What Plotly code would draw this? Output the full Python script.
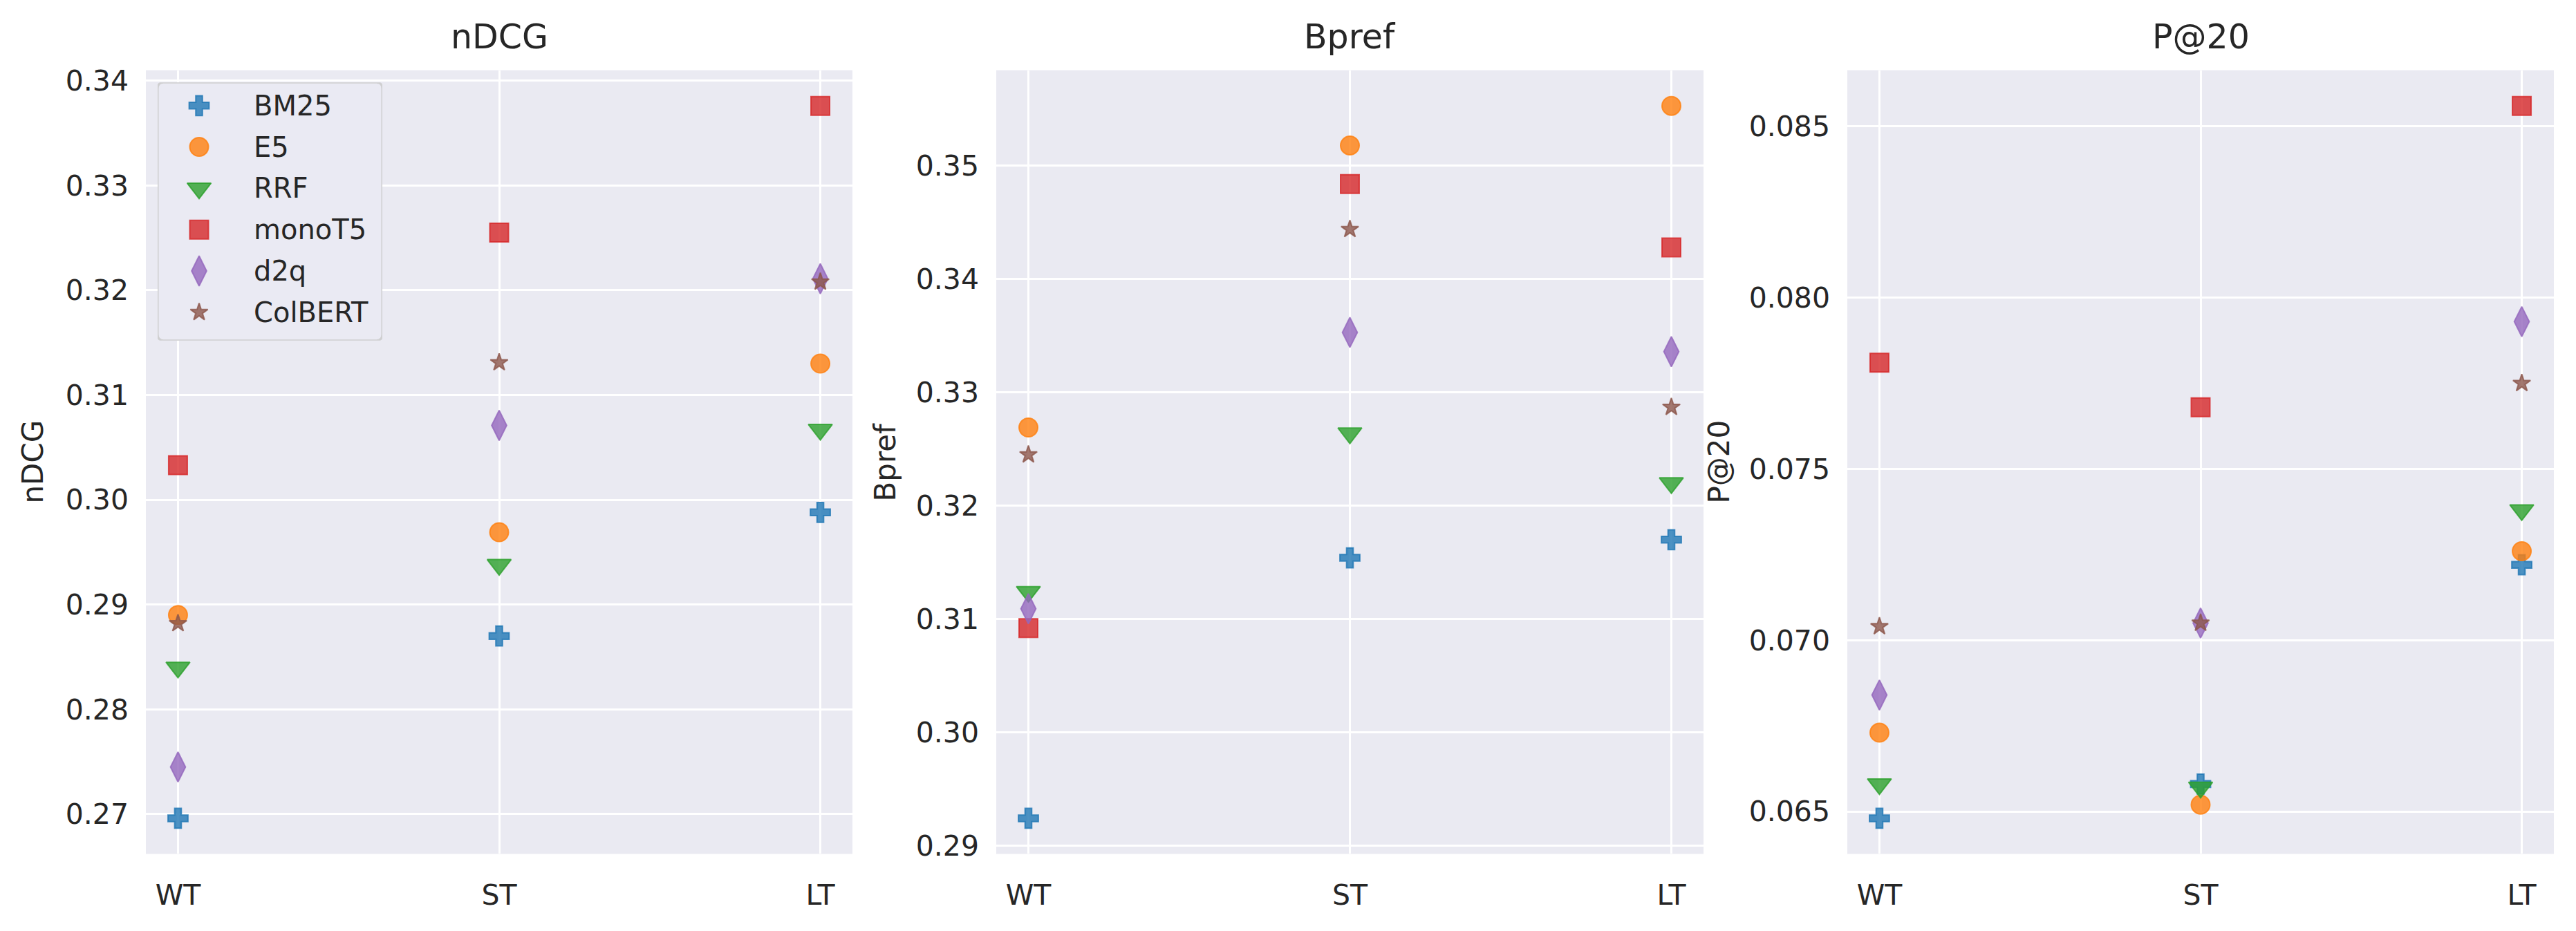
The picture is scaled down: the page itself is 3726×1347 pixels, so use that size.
import plotly.graph_objects as go

# categories and method names
categories = ["WT", "ST", "LT"]
methods = ["BM25", "E5", "RRF", "monoT5", "d2q", "ColBERT"]

# nDCG
bm25_ndcg = [0.2696, 0.2870, 0.2988]
e5_ndcg = [0.2890, 0.2969, 0.3130]
rrf_ndcg = [0.2840, 0.2938, 0.3067]
monot5_ndcg = [0.3033, 0.3255, 0.3376]
d2q_ndcg = [0.2745, 0.3071, 0.3211]
colbert_ndcg = [0.2882, 0.3131, 0.3208]

# Bpref
bm25_bpref = [0.2924, 0.3154, 0.3170]
e5_bpref = [0.3269, 0.3518, 0.3553]
rrf_bpref = [0.3124, 0.3264, 0.3220]
monot5_bpref = [0.3092, 0.3484, 0.3428]
d2q_bpref = [0.3109, 0.3353, 0.3336]
colbert_bpref = [0.3245, 0.3444, 0.3287]

# P@20
bm25_p20 = [0.0648, 0.0658, 0.0722]
e5_p20 = [0.0673, 0.0652, 0.0726]
rrf_p20 = [0.0658, 0.0657, 0.0738]
monot5_p20 = [0.0781, 0.0768, 0.0856]
d2q_p20 = [0.0684, 0.0705, 0.0793]
colbert_p20 = [0.0704, 0.0705, 0.0775]

metric_names = ["nDCG", "Bpref", "P@20"]
metric_data = [
    [bm25_ndcg, e5_ndcg, rrf_ndcg, monot5_ndcg, d2q_ndcg, colbert_ndcg],
    [bm25_bpref, e5_bpref, rrf_bpref, monot5_bpref, d2q_bpref, colbert_bpref],
    [bm25_p20, e5_p20, rrf_p20, monot5_p20, d2q_p20, colbert_p20],
]

# styling (tab10 colours, matplotlib-like markers)
colors = ["#1f77b4", "#ff7f0e", "#2ca02c", "#d62728", "#9467bd", "#8c564b"]
symbols = ["cross", "circle", "triangle-down", "square", "diamond-tall", "star"]
sizes = [24, 27, 30, 27, 31, 19]

W, H = 3726, 1347
FONT = "DejaVu Sans"
TXT = "#262626"
x_domains = [(211, 1233), (1441, 2464), (2672, 3694)]
y_dom = [1 - 1246 / H, 1 - 95 / H]
ylabel_x = [48, 1281, 2487]
tick_fmt = [".2f", ".2f", ".3f"]
dticks = [0.01, 0.01, 0.005]

# legend box (pixels) drawn on its own small axis
leg_box = (228, 113, 553, 492)  # left, top, right, bottom
leg_w = leg_box[2] - leg_box[0]
leg_h = leg_box[3] - leg_box[1]
leg_row0, leg_row_gap = 34, 60.7
leg_marker_x, leg_text_x = 60, 137


def rgba(hex_color, a):
    h = hex_color.lstrip("#")
    r, g, b = int(h[0:2], 16), int(h[2:4], 16), int(h[4:6], 16)
    return f"rgba({r},{g},{b},{a})"


fig = go.Figure()
annotations = []

for k, (name, series) in enumerate(zip(metric_names, metric_data)):
    suffix = "" if k == 0 else str(k + 1)
    for i, vals in enumerate(series):
        fig.add_trace(
            go.Scatter(
                x=categories,
                y=vals,
                mode="markers",
                name=methods[i],
                showlegend=False,
                marker=dict(
                    symbol=symbols[i],
                    size=sizes[i],
                    color=rgba(colors[i], 0.8),
                    line=dict(color=rgba(colors[i], 0.8), width=2),
                ),
                xaxis="x" + suffix,
                yaxis="y" + suffix,
            )
        )

    lo = min(min(v) for v in series)
    hi = max(max(v) for v in series)
    pad = (hi - lo) * 0.05
    d0, d1 = x_domains[k]
    axis_common = dict(
        showgrid=True,
        gridcolor="white",
        gridwidth=3,
        zeroline=False,
        showline=False,
        ticks="",
        tickfont=dict(family=FONT, size=41, color=TXT),
    )
    fig.update_layout(
        {
            "xaxis" + suffix: dict(
                domain=[d0 / W, d1 / W],
                anchor="y" + suffix,
                type="category",
                range=[-0.1, 2.1],
                ticklabelstandoff=32,
                **axis_common,
            ),
            "yaxis" + suffix: dict(
                domain=y_dom,
                anchor="x" + suffix,
                range=[lo - pad, hi + pad],
                dtick=dticks[k],
                tickformat=tick_fmt[k],
                ticklabelstandoff=24,
                **axis_common,
            ),
        }
    )
    annotations.append(
        dict(
            text=name,
            x=(d0 + d1) / 2 / W,
            y=y_dom[1],
            xref="paper",
            yref="paper",
            xanchor="center",
            yanchor="bottom",
            yshift=18,
            showarrow=False,
            font=dict(family=FONT, size=49, color=TXT),
        )
    )
    annotations.append(
        dict(
            text=name,
            x=ylabel_x[k] / W,
            y=(y_dom[0] + y_dom[1]) / 2,
            xref="paper",
            yref="paper",
            xanchor="center",
            yanchor="middle",
            textangle=-90,
            showarrow=False,
            font=dict(family=FONT, size=42, color=TXT),
        )
    )

# legend: markers at full size (plotly's own legend caps symbol size)
leg_rows = [leg_row0 + leg_row_gap * i for i in range(len(methods))]
fig.add_trace(
    go.Scatter(
        x=[leg_marker_x] * len(methods),
        y=leg_rows,
        mode="markers",
        showlegend=False,
        hoverinfo="skip",
        marker=dict(
            symbol=symbols,
            size=sizes,
            opacity=1,  # array sizes would otherwise default to 0.7
            color=[rgba(c, 0.8) for c in colors],
            line=dict(color=[rgba(c, 0.8) for c in colors], width=2),
        ),
        xaxis="x4",
        yaxis="y4",
    )
)
for i, m in enumerate(methods):
    annotations.append(
        dict(
            text=m,
            x=leg_text_x,
            y=leg_rows[i],
            xref="x4",
            yref="y4",
            xanchor="left",
            yanchor="middle",
            showarrow=False,
            font=dict(family=FONT, size=40, color=TXT),
        )
    )

hidden = dict(
    showgrid=False, zeroline=False, showline=False, showticklabels=False,
    ticks="", fixedrange=True,
)
r = 9
box_path = (
    f"M{r},0 L{leg_w - r},0 Q{leg_w},0 {leg_w},{r} L{leg_w},{leg_h - r} "
    f"Q{leg_w},{leg_h} {leg_w - r},{leg_h} L{r},{leg_h} Q0,{leg_h} 0,{leg_h - r} "
    f"L0,{r} Q0,0 {r},0 Z"
)

fig.update_layout(
    width=W,
    height=H,
    margin=dict(l=0, r=0, t=0, b=0),
    paper_bgcolor="white",
    plot_bgcolor="#EAEAF2",
    font=dict(family=FONT, color=TXT),
    annotations=annotations,
    showlegend=False,
    xaxis4=dict(
        domain=[leg_box[0] / W, leg_box[2] / W],
        anchor="y4",
        range=[0, leg_w],
        **hidden,
    ),
    yaxis4=dict(
        domain=[1 - leg_box[3] / H, 1 - leg_box[1] / H],
        anchor="x4",
        range=[leg_h, 0],
        **hidden,
    ),
    shapes=[
        dict(
            type="path",
            path=box_path,
            xref="x4",
            yref="y4",
            layer="below",
            fillcolor="rgba(234,234,242,0.8)",
            line=dict(color="rgba(204,204,204,0.9)", width=3),
        )
    ],
)

# drop the browser's default 8px body margin so the figure sits at 0,0
fig.write_html(
    "out.html",
    config={"displayModeBar": False},
    post_script="document.body.style.margin='0';",
)
